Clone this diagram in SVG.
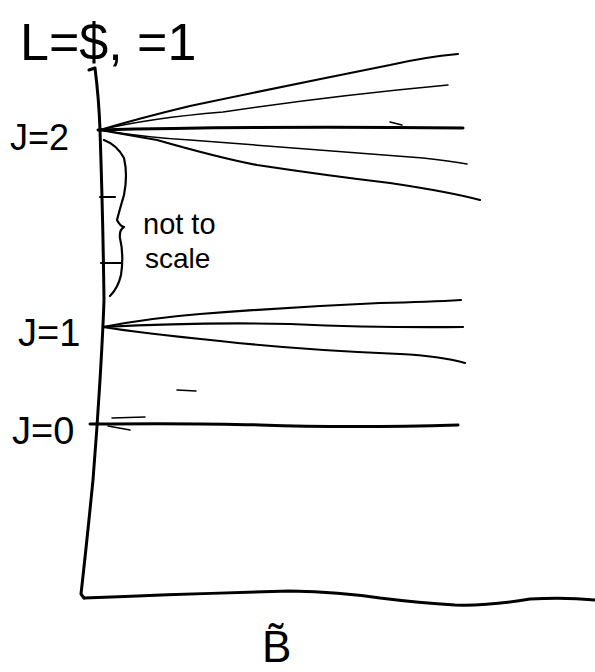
<svg xmlns="http://www.w3.org/2000/svg" width="595" height="672" viewBox="0 0 595 672">
<style>
.ink{fill:none;stroke:#000;stroke-linecap:round;stroke-linejoin:round}
.thick{stroke-width:3}
.mid{stroke-width:2.2}
.thin{stroke-width:1.5}
.lbl{font-family:"Liberation Sans",Arial,sans-serif;fill:#000}
</style>
<rect width="595" height="672" fill="#fff"/>
<g id="axes">
<path class="ink thick" d="M89,70 L95,68 Q99,100 100,130 Q103,220 104,300 Q103,330 100,380 Q97,430 93,480 Q86,550 81,594 L84,598"/>
<path class="ink thick" d="M84,598 Q180,594 290,591 Q340,592 380,598 Q420,603 455,605 Q490,606 530,599 Q565,597 595,600"/>
</g>
<g id="title">
<text class="lbl" x="20" y="60" font-size="52">L=$, =1</text>
</g>
<g id="label-J2"><text class="lbl" x="10" y="150" font-size="36">J=2</text></g>
<g id="label-J1"><text class="lbl" x="18" y="346" font-size="38">J=1</text></g>
<g id="label-J0"><text class="lbl" x="12" y="444" font-size="38">J=0</text></g>
<g id="label-B"><text class="lbl" x="262" y="662" font-size="44">B̃</text></g>
<g id="note">
<path class="ink mid" d="M104,140 Q117,145 124,158 Q128,175 124,195 Q119,212 117,220 Q120,226 124,227 Q119,230 120,238 Q124,255 121,275 Q118,288 110,296"/>
<path class="ink mid" d="M100,197 L115,197"/>
<path class="ink mid" d="M101,263 L121,263"/>
<text class="lbl" x="143" y="234" font-size="29">not to</text>
<text class="lbl" x="145" y="268" font-size="28">scale</text>
</g>
<g id="connectors">
<path class="ink mid" d="M100,130 Q140,118 190,106 Q290,85 390,65 Q425,57 458,54"/>
<path class="ink thin" d="M100,130 Q150,118 223,112 Q330,96 448,85"/>
<path class="ink thick" d="M98,130 Q250,126 463,128"/>
<path class="ink thin" d="M390,122 L402,125"/>
<path class="ink thin" d="M100,130 Q150,138 190,140 Q320,150 423,158 Q450,161 467,164"/>
<path class="ink mid" d="M100,130 Q140,137 157,140 Q220,158 257,165 Q330,176 390,183 Q450,192 480,200"/>
<path class="ink mid" d="M103,327 Q150,318 200,314 Q290,307 380,303 Q430,302 461,300"/>
<path class="ink mid" d="M103,327 Q200,322 290,324 Q380,328 463,327"/>
<path class="ink mid" d="M103,327 Q140,333 220,341 Q300,350 400,354 Q440,356 465,363"/>
<path class="ink thin" d="M177,390 L196,391"/>
<path class="ink thick" d="M90,424 Q200,423 260,425 Q350,428 458,425"/>
<path class="ink thin" d="M112,418 L145,417"/>
<path class="ink thin" d="M108,426 L130,430"/>
</g>
</svg>
